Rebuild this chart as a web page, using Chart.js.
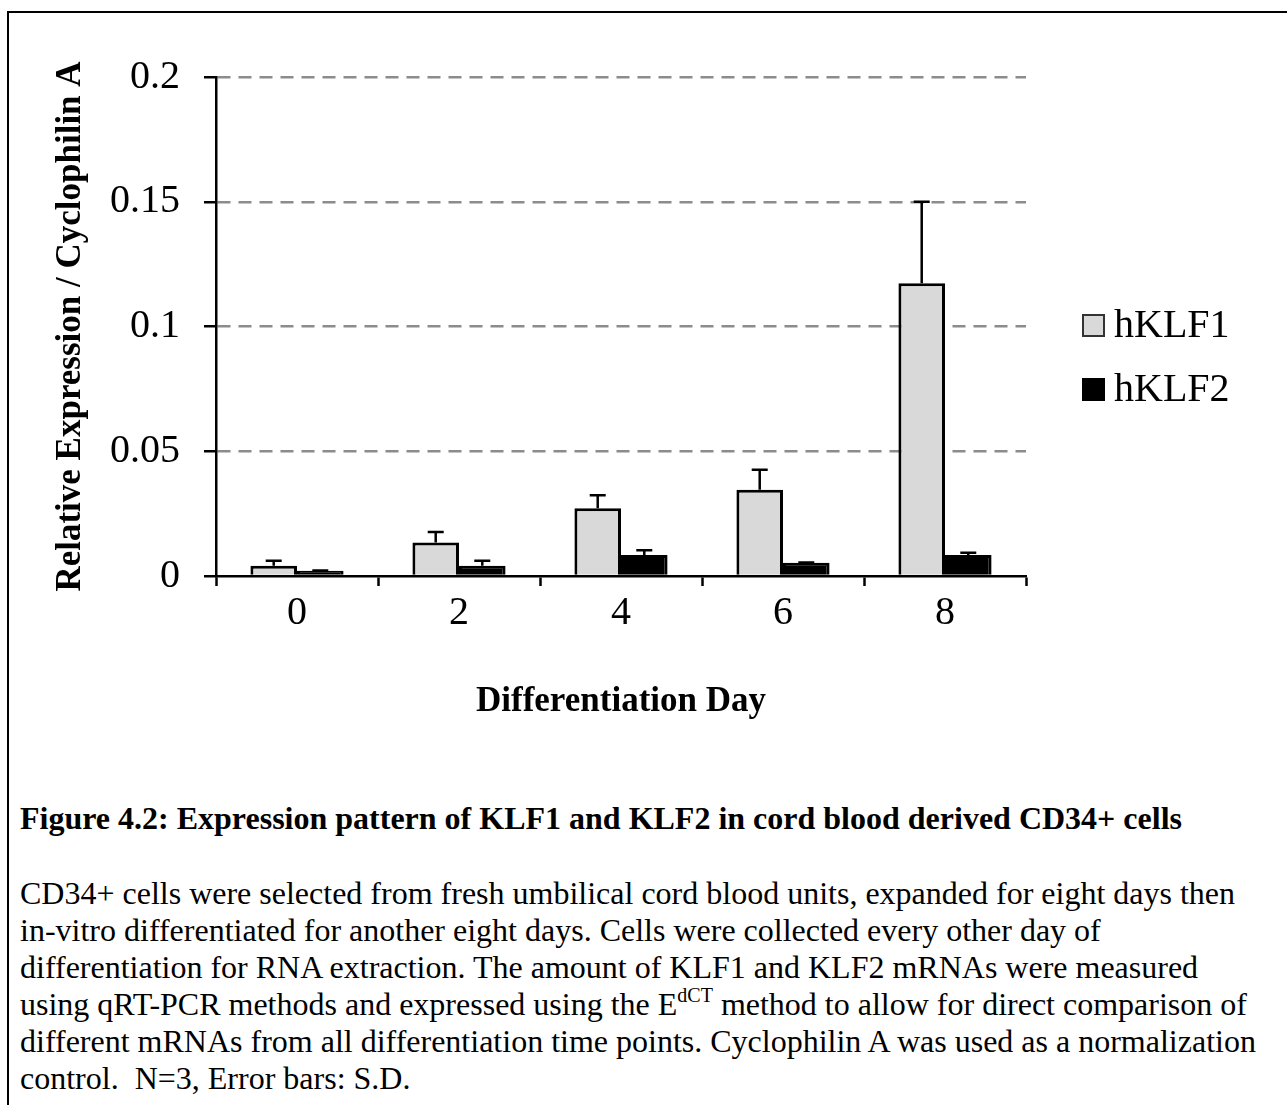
<!DOCTYPE html>
<html>
<head>
<meta charset="utf-8">
<script src="https://cdn.jsdelivr.net/npm/chart.js@4.4.1/dist/chart.umd.min.js"></script>
<style>
  html, body { margin: 0; padding: 0; background: #fff; width: 1287px; height: 1105px; overflow: hidden; }
  #frame { position: absolute; left: 7px; top: 11px; width: 1400px; height: 1200px;
           border-left: 2px solid #000; border-top: 2px solid #000; }
  #chart { position: absolute; left: 0; top: 0; }
  .cap { position: absolute; left: 20px; font-family: "Liberation Serif", "Times New Roman", serif;
         font-size: 32px; color: #000; white-space: nowrap; }
  #capTitle { top: 800px; line-height: 37px; font-weight: bold; }
  #capBody { top: 875px; line-height: 37px; }
  .sup { position: relative; top: -13px; font-size: 20px; line-height: 0; }
</style>
</head>
<body>
<div id="frame"></div>
<canvas id="chart" width="1287" height="760"></canvas>
<div id="capTitle" class="cap">Figure 4.2: Expression pattern of KLF1 and KLF2 in cord blood derived CD34+ cells</div>
<div id="capBody" class="cap">CD34+ cells were selected from fresh umbilical cord blood units, expanded for eight days then<br>in-vitro differentiated for another eight days. Cells were collected every other day of<br>differentiation for RNA extraction. The amount of KLF1 and KLF2 mRNAs were measured<br>using qRT-PCR methods and expressed using the E<span class="sup">dCT</span> method to allow for direct comparison of<br>different mRNAs from all differentiation time points. Cyclophilin A was used as a normalization<br>control.&nbsp; N=3, Error bars: S.D.</div>
<script>
// Differentiation days (categories)
const days = ['0', '2', '4', '6', '8'];
// Mean relative expression, normalised to Cyclophilin A
const klf1 = [0.0041, 0.0134, 0.0272, 0.0346, 0.1173];
const klf2 = [0.0021, 0.0041, 0.0084, 0.0053, 0.0084];
// Standard deviations (upper error bars)
const klf1Sd = [0.0020, 0.0042, 0.0052, 0.0080, 0.0327];
const klf2Sd = [0.0001, 0.0020, 0.0019, 0.0001, 0.0009];
// Value-axis tick labels
const yTickLabels = ['0', '0.05', '0.1', '0.15', '0.2'];
const seriesNames = ['hKLF1', 'hKLF2'];

const SERIF = '"Liberation Serif", "Times New Roman", serif';
Chart.defaults.font.family = SERIF;
Chart.defaults.color = '#000';

// Upper S.D. whiskers with caps, drawn from each bar's top
const errorBars = {
  id: 'errorBars',
  afterDatasetsDraw(chart) {
    const ctx = chart.ctx;
    const yScale = chart.scales.y;
    chart.data.datasets.forEach((ds, di) => {
      const meta = chart.getDatasetMeta(di);
      meta.data.forEach((bar, i) => {
        const v = ds.data[i];
        const e = ds.sd[i];
        const yBase = yScale.getPixelForValue(v);
        const yTop = yScale.getPixelForValue(v + e);
        ctx.save();
        ctx.strokeStyle = '#000';
        ctx.lineWidth = 2.5;
        ctx.beginPath();
        ctx.moveTo(bar.x, yBase);
        ctx.lineTo(bar.x, yTop);
        ctx.moveTo(bar.x - 8, yTop);
        ctx.lineTo(bar.x + 8, yTop);
        ctx.stroke();
        ctx.restore();
      });
    });
  }
};

// Legend to the right of the plot, square swatches
const sideLegend = {
  id: 'sideLegend',
  afterDraw(chart) {
    const ctx = chart.ctx;
    const area = chart.chartArea;
    const x0 = area.right + 57;
    const y0 = area.top + 249;
    chart.data.datasets.forEach((ds, i) => {
      const cy = y0 + i * 64;
      ctx.save();
      ctx.fillStyle = ds.backgroundColor;
      ctx.fillRect(x0, cy - 11, 21, 21);
      ctx.strokeStyle = i === 0 ? '#333' : '#000';
      ctx.lineWidth = 2;
      ctx.strokeRect(x0, cy - 11, 21, 21);
      ctx.fillStyle = '#000';
      ctx.font = '40px ' + SERIF;
      ctx.textBaseline = 'middle';
      ctx.textAlign = 'left';
      ctx.fillText(ds.label, x0 + 31, cy);
      ctx.restore();
    });
  }
};

new Chart(document.getElementById('chart'), {
  type: 'bar',
  data: {
    labels: days,
    datasets: [
      { label: seriesNames[0], data: klf1, sd: klf1Sd, backgroundColor: '#d9d9d9',
        borderColor: '#000', borderWidth: 3, borderSkipped: 'bottom' },
      { label: seriesNames[1], data: klf2, sd: klf2Sd, backgroundColor: '#000',
        borderColor: '#000', borderWidth: 3, borderSkipped: 'bottom' }
    ]
  },
  options: {
    responsive: false,
    animation: false,
    devicePixelRatio: 1,
    layout: { padding: { left: 0, top: 77, right: 261, bottom: 0 } },
    datasets: { bar: { categoryPercentage: 0.575, barPercentage: 1.0 } },
    plugins: { legend: { display: false }, tooltip: { enabled: false } },
    scales: {
      x: {
        afterFit(scale) { scale.height = 184; },
        grid: { display: true, drawOnChartArea: false, drawTicks: true, offset: true,
                tickLength: 10, tickColor: '#000', tickWidth: 2.5 },
        border: { display: true, color: '#000', width: 2.5 },
        ticks: { font: { size: 40 }, padding: 3, color: '#000' },
        title: { display: true, text: 'Differentiation Day', color: '#000',
                 font: { size: 35, weight: 'bold' }, padding: { top: 0, bottom: 37 } }
      },
      y: {
        min: 0, max: 0.2,
        afterFit(scale) { scale.width = 216; },
        grid: {
          color: (c) => (c.tick && c.tick.value === 0) ? 'rgba(0,0,0,0)' : '#8c8c8c',
          lineWidth: 2.5, tickLength: 12, tickColor: '#000', tickWidth: 2.5, tickBorderDash: []
        },
        border: { display: true, color: '#000', width: 2.5, dash: [13, 8] },
        ticks: {
          stepSize: 0.05, font: { size: 40 }, padding: 24, color: '#000',
          callback: (v, i) => yTickLabels[i]
        },
        title: { display: true, text: 'Relative Expression / Cyclophilin A', color: '#000',
                 font: { size: 35, weight: 'bold' }, padding: { top: 50, bottom: 0 } }
      }
    }
  },
  plugins: [errorBars, sideLegend]
});
</script>
</body>
</html>
